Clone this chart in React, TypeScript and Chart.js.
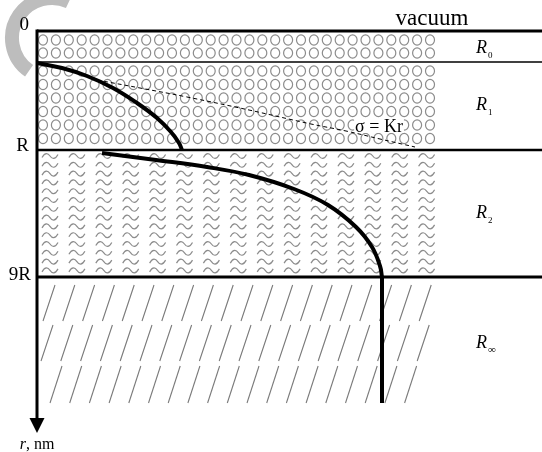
import React, { useEffect, useRef } from "react";
import { Chart, registerables } from "chart.js";

Chart.register(...registerables);

// ---- data (diagram units: x across, r downward) ----
const X_MAX = 505;
const R_MAX = 402;

const layerBounds = [0, 31, 119, 246]; // interface depths: surface, R0, R, 9R
const tickLabels = ["0", "", "R", "9R"];
const regionNames = ["R", "R", "R", "R"];
const regionSubs = ["0", "1", "2", "\u221E"];
const regionLabelR = [22, 79, 187, 317];

const curve1X = [0, 25, 50, 76, 100, 120, 134, 142, 145];
const curve1R = [32, 37, 45, 57, 72, 87, 101, 112, 119];

const sigmaX = [60, 103, 150, 212, 274, 309, 343, 378];
const sigmaR = [49, 57, 66, 79, 93, 100, 108, 116];

const curve2X = [65, 119, 170, 212, 257, 291, 319, 335, 343, 345];
const curve2R = [122, 129, 136, 144, 158, 174, 196, 216, 235, 246];

const tailX = [345, 345];
const tailR = [246, 372];

const topLabel = "vacuum";
const sigmaLabel = "\u03C3 = Kr";
const axisLabelItalic = "r";
const axisLabelRest = ", nm";

const SERIF = '"Liberation Serif", "Times New Roman", serif';

const zip = (xs: number[], ys: number[]) => xs.map((v, i) => ({ x: v, y: ys[i] }));

const diagramPlugin = {
  id: "diagram",
  beforeDatasetsDraw(chart: any) {
    const { ctx, chartArea } = chart;
    const xs = chart.scales.x;
    const ys = chart.scales.y;
    const px = (v: number) => xs.getPixelForValue(v);
    const py = (v: number) => ys.getPixelForValue(v);
    ctx.save();

    // watermark arc
    ctx.strokeStyle = "#bdbdbd";
    ctx.lineWidth = 14;
    ctx.beginPath();
    ctx.arc(52, 38, 40, (125 * Math.PI) / 180, (295 * Math.PI) / 180, false);
    ctx.stroke();

    // circles pattern (R0 + R1)
    ctx.strokeStyle = "#8c8c8c";
    ctx.lineWidth = 1.2;
    const circleRows = [9, 22, 40, 53.5, 67, 80.5, 94, 107.5];
    for (const r of circleRows) {
      for (let k = 0; k < 31; k++) {
        const cx = px(6 + 12.9 * k);
        const cy = py(r);
        ctx.beginPath();
        ctx.ellipse(cx, cy, 4.5, 5.2, 0, 0, Math.PI * 2);
        ctx.stroke();
      }
    }

    // wave pattern (R2)
    ctx.strokeStyle = "#8c8c8c";
    ctx.lineWidth = 1.2;
    for (let j = 0; j < 14; j++) {
      const cy = py(125 + 8.8 * j);
      for (let k = 0; k < 15; k++) {
        const cx = px(13 + 26.9 * k);
        ctx.beginPath();
        ctx.moveTo(cx - 8, cy + 1.5);
        ctx.bezierCurveTo(cx - 5, cy - 4, cx - 2, cy - 3, cx, cy);
        ctx.bezierCurveTo(cx + 2, cy + 3, cx + 5, cy + 4, cx + 8, cy - 1.5);
        ctx.stroke();
      }
    }

    // slash pattern (R-infinity)
    ctx.strokeStyle = "#7a7a7a";
    ctx.lineWidth = 1.1;
    const slashRows = [
      { top: 254, bot: 290, start: 6, step: 19.8, n: 20 },
      { top: 294, bot: 330, start: 4, step: 19.8, n: 20 },
      { top: 335, bot: 372, start: 13, step: 19.7, n: 19 },
    ];
    for (const row of slashRows) {
      for (let k = 0; k < row.n; k++) {
        const bx = px(row.start + row.step * k);
        ctx.beginPath();
        ctx.moveTo(bx, py(row.bot));
        ctx.lineTo(bx + 12, py(row.top));
        ctx.stroke();
      }
    }

    // interface lines
    const widths = [3, 1.5, 2.5, 3];
    ctx.strokeStyle = "#000";
    layerBounds.forEach((b, i) => {
      ctx.lineWidth = widths[i];
      ctx.beginPath();
      ctx.moveTo(px(0), py(b));
      ctx.lineTo(chartArea.right, py(b));
      ctx.stroke();
    });

    // vertical axis with arrow
    ctx.lineWidth = 3;
    ctx.beginPath();
    ctx.moveTo(px(0), py(0) - 1.5);
    ctx.lineTo(px(0), py(390));
    ctx.stroke();
    ctx.fillStyle = "#000";
    ctx.beginPath();
    ctx.moveTo(px(0) - 7.5, py(387));
    ctx.lineTo(px(0) + 7.5, py(387));
    ctx.lineTo(px(0), py(R_MAX));
    ctx.closePath();
    ctx.fill();

    // white background behind sigma label
    ctx.font = `18px ${SERIF}`;
    const sw = ctx.measureText(sigmaLabel).width;
    ctx.fillStyle = "#fff";
    ctx.fillRect(px(342) - sw / 2 - 1, py(88), sw + 2, 14);

    ctx.restore();
  },
  afterDatasetsDraw(chart: any) {
    const { ctx } = chart;
    const xs = chart.scales.x;
    const ys = chart.scales.y;
    const px = (v: number) => xs.getPixelForValue(v);
    const py = (v: number) => ys.getPixelForValue(v);
    ctx.save();
    ctx.fillStyle = "#000";
    ctx.textBaseline = "alphabetic";

    // left tick labels
    ctx.font = `19px ${SERIF}`;
    ctx.textAlign = "right";
    const tickBase = [-1, 0, 1, 3];
    layerBounds.forEach((b, i) => {
      if (!tickLabels[i]) return;
      const xr = i === 3 ? px(0) - 6 : px(0) - 8;
      ctx.fillText(tickLabels[i], xr, py(b) + tickBase[i]);
    });

    // top label
    ctx.font = `23px ${SERIF}`;
    ctx.textAlign = "center";
    ctx.fillText(topLabel, 432, py(0) - 6);

    // region labels
    ctx.textAlign = "left";
    regionNames.forEach((n, i) => {
      ctx.font = `italic 18px ${SERIF}`;
      const x0 = 476;
      ctx.fillText(n, x0, py(regionLabelR[i]));
      const w = ctx.measureText(n).width;
      ctx.font = `${i === 3 ? 11 : 9}px ${SERIF}`;
      ctx.fillText(regionSubs[i], x0 + w + 1, py(regionLabelR[i]) + 5);
    });

    // sigma label
    ctx.font = `18px ${SERIF}`;
    ctx.textAlign = "center";
    ctx.fillText(sigmaLabel, px(342), py(101));

    // axis label
    ctx.font = `italic 16px ${SERIF}`;
    const w1 = ctx.measureText(axisLabelItalic).width;
    ctx.font = `16px ${SERIF}`;
    const w2 = ctx.measureText(axisLabelRest).width;
    const startX = px(0) - (w1 + w2) / 2;
    ctx.textAlign = "left";
    ctx.font = `italic 16px ${SERIF}`;
    ctx.fillText(axisLabelItalic, startX, 449);
    ctx.font = `16px ${SERIF}`;
    ctx.fillText(axisLabelRest, startX + w1, 449);

    ctx.restore();
  },
};

export default function App() {
  const ref = useRef<HTMLCanvasElement | null>(null);

  useEffect(() => {
    if (!ref.current) return;
    const chart = new Chart(ref.current, {
      type: "line",
      data: {
        datasets: [
          {
            data: zip(curve1X, curve1R),
            borderColor: "#000",
            borderWidth: 4,
            pointRadius: 0,
            tension: 0.4,
            clip: false,
          } as any,
          {
            data: zip(sigmaX, sigmaR),
            borderColor: "#000",
            borderWidth: 1,
            borderDash: [4, 3],
            pointRadius: 0,
            tension: 0.4,
            clip: false,
          } as any,
          {
            data: zip(curve2X, curve2R),
            borderColor: "#000",
            borderWidth: 4,
            pointRadius: 0,
            tension: 0.4,
            clip: false,
          } as any,
          {
            data: zip(tailX, tailR),
            borderColor: "#000",
            borderWidth: 4,
            pointRadius: 0,
            clip: false,
          } as any,
        ],
      },
      options: {
        responsive: false,
        animation: false,
        devicePixelRatio: 1,
        events: [],
        layout: { padding: { left: 37, top: 31, right: 0, bottom: 19 } },
        scales: {
          x: { type: "linear", min: 0, max: X_MAX, display: false },
          y: { type: "linear", min: 0, max: R_MAX, reverse: true, display: false },
        },
        plugins: { legend: { display: false }, tooltip: { enabled: false } },
      },
      plugins: [diagramPlugin],
    });
    return () => chart.destroy();
  }, []);

  return (
    <div style={{ position: "absolute", left: 0, top: 0, width: 542, height: 452, background: "#fff" }}>
      <canvas ref={ref} width={542} height={452} style={{ display: "block" }} />
    </div>
  );
}
